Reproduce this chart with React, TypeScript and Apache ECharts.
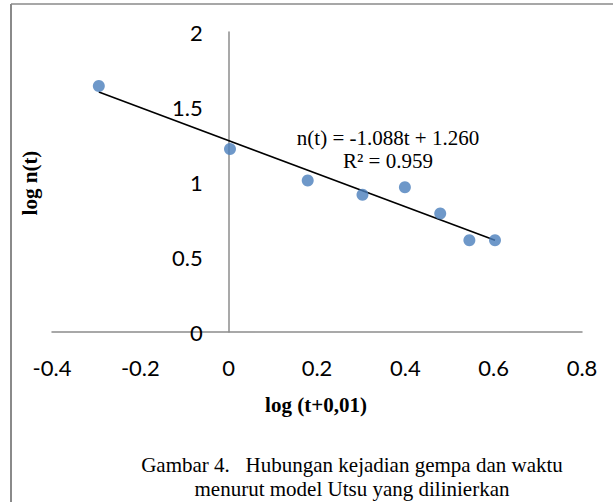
import React, { useEffect, useRef } from "react";
import * as echarts from "echarts";

const logT = [-0.294, 0.003, 0.179, 0.303, 0.399, 0.479, 0.545, 0.603];
const logN = [1.64, 1.22, 1.01, 0.915, 0.965, 0.79, 0.612, 0.612];
const trendX = [-0.294, 0.603];
const trendY = [1.6, 0.612];
const xTicks = { min: -0.4, max: 0.8, interval: 0.2 };
const yTicks = { min: 0, max: 2, interval: 0.5 };
const equationText = "n(t) = -1.088t + 1.260";
const r2Text = "R² = 0.959";
const xTitle = "log (t+0,01)";
const yTitle = "log n(t)";
const captionLines = [
  "Gambar 4.   Hubungan kejadian gempa dan waktu",
  "menurut model Utsu yang dilinierkan",
];

export default function App() {
  const ref = useRef<HTMLDivElement>(null);
  useEffect(() => {
    if (!ref.current) return;
    const chart = echarts.init(ref.current, undefined, { renderer: "svg" });
    const axisColor = "#8c8c8c";
    const serif = "'Liberation Serif', 'Times New Roman', serif";
    const sans = "Lato, 'Open Sans', sans-serif";
    const gridLeft = 52;
    const gridRight = 31;
    const plotW = 613 - gridLeft - gridRight;
    const zeroOffset = ((0 - xTicks.min) / (xTicks.max - xTicks.min)) * plotW;
    chart.setOption({
      animation: false,
      backgroundColor: "#ffffff",
      grid: {
        left: gridLeft, right: gridRight, top: 32, bottom: 170,
        containLabel: false, outerBoundsMode: "none",
      },
      xAxis: {
        type: "value",
        min: xTicks.min,
        max: xTicks.max,
        interval: xTicks.interval,
        axisLine: { show: true, onZero: false, lineStyle: { color: axisColor, width: 1.5 } },
        axisTick: { show: false },
        splitLine: { show: false },
        axisLabel: { fontFamily: sans, fontSize: 22, color: "#000", margin: 24 },
      },
      yAxis: {
        type: "value",
        min: yTicks.min,
        max: yTicks.max,
        interval: yTicks.interval,
        offset: -zeroOffset,
        axisLine: { show: true, onZero: false, lineStyle: { color: axisColor, width: 1.5 } },
        axisTick: { show: false },
        splitLine: { show: false },
        axisLabel: { fontFamily: sans, fontSize: 22, color: "#000", margin: 26 },
      },
      series: [
        {
          type: "line",
          data: trendX.map((x, i) => [x, trendY[i]]),
          symbol: "none",
          lineStyle: { color: "#000", width: 1.6 },
          z: 2,
        },
        {
          type: "scatter",
          data: logT.map((x, i) => [x, logN[i]]),
          symbol: "circle",
          symbolSize: 12,
          itemStyle: { color: "#4a7ebb" },
          z: 3,
        },
      ],
      graphic: [
        { type: "line", shape: { x1: 11, y1: 4, x2: 613, y2: 4 }, style: { stroke: "#8a8a8a", lineWidth: 1.5 } },
        { type: "line", shape: { x1: 11, y1: 4, x2: 11, y2: 502 }, style: { stroke: "#8a8a8a", lineWidth: 2 } },
        {
          type: "text", x: 388, y: 138,
          style: { text: equationText, font: `21px ${serif}`, fill: "#000", textAlign: "center", textVerticalAlign: "middle" },
        },
        {
          type: "text", x: 388, y: 161,
          style: { text: r2Text, font: `21px ${serif}`, fill: "#000", textAlign: "center", textVerticalAlign: "middle" },
        },
        {
          type: "text", x: 316, y: 405,
          style: { text: xTitle, font: `bold 21px ${serif}`, fill: "#000", textAlign: "center", textVerticalAlign: "middle" },
        },
        {
          type: "text", x: 30, y: 183, rotation: Math.PI / 2,
          style: { text: yTitle, font: `bold 21px ${serif}`, fill: "#000", textAlign: "center", textVerticalAlign: "middle" },
        },
        {
          type: "text", x: 352, y: 465,
          style: { text: captionLines[0], font: `21px ${serif}`, fill: "#000", textAlign: "center", textVerticalAlign: "middle" },
        },
        {
          type: "text", x: 352, y: 489,
          style: { text: captionLines[1], font: `21px ${serif}`, fill: "#000", textAlign: "center", textVerticalAlign: "middle" },
        },
      ],
    });
    return () => chart.dispose();
  }, []);
  return <div ref={ref} style={{ width: 613, height: 502, position: "absolute", left: 0, top: 0 }} />;
}
